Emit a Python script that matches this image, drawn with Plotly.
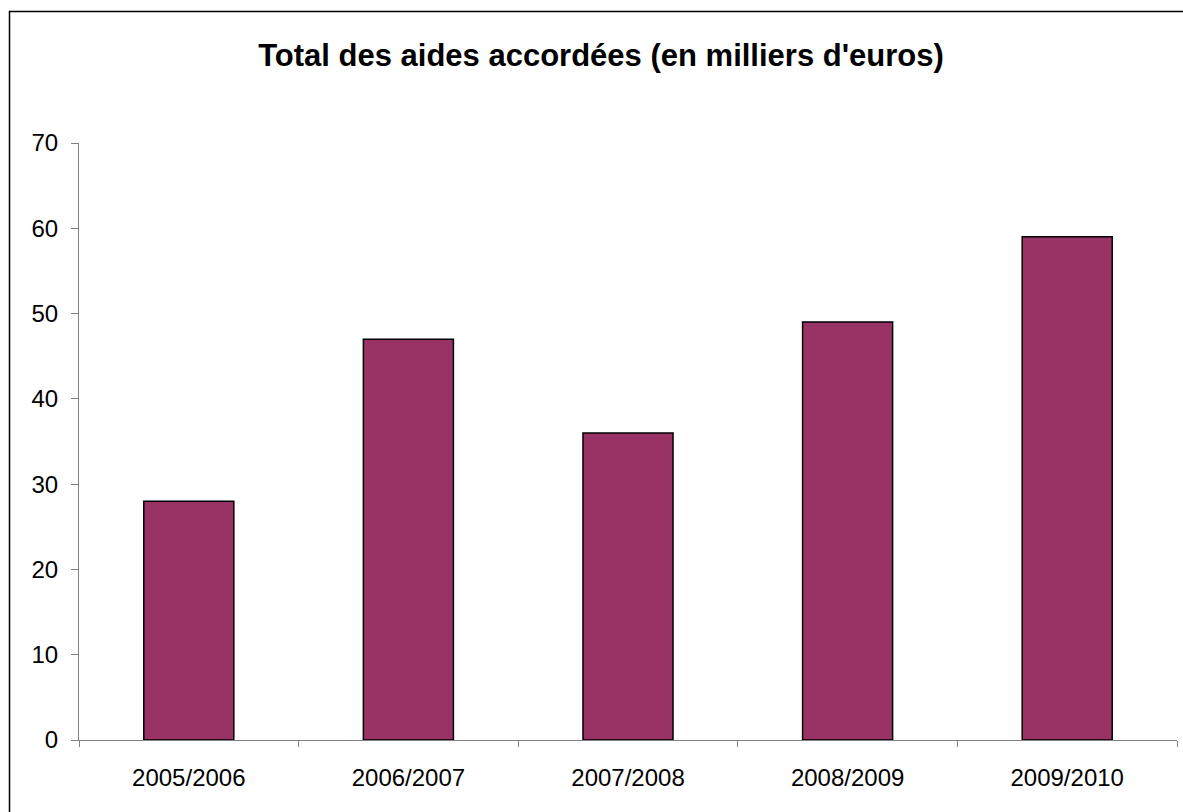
import plotly.graph_objects as go

categories = ["2005/2006", "2006/2007", "2007/2008", "2008/2009", "2009/2010"]
values = [28, 47, 36, 49, 59]
y_ticks = [0, 10, 20, 30, 40, 50, 60, 70]

W, H = 1183, 812
L, R, T, B = 79, 1177, 143, 740

fig = go.Figure(go.Bar(
    x=categories, y=values,
    marker=dict(color="#993366", line=dict(color="#000000", width=1.5)),
))

def px_to_paper_x(px):
    return (px - L) / (R - L)

def px_to_paper_y(py):
    return (B - py) / (B - T)

fig.add_shape(type="rect", xref="paper", yref="paper",
              x0=px_to_paper_x(9.5), x1=px_to_paper_x(1220),
              y0=px_to_paper_y(850), y1=px_to_paper_y(11.5),
              line=dict(color="#000000", width=1.5), fillcolor="rgba(0,0,0,0)",
              layer="below")

fig.update_layout(
    width=W, height=H,
    margin=dict(l=L, r=W - R, t=T, b=H - B, pad=0),
    paper_bgcolor="white", plot_bgcolor="white",
    bargap=0.59,
    showlegend=False,
    title=dict(text="<b>Total des aides accordées (en milliers d'euros)</b>",
               x=px_to_paper_x(601), xref="paper", xanchor="center",
               y=1 - 55 / H, yanchor="middle",
               font=dict(family="Liberation Sans, Arial", size=31, color="#000000")),
    font=dict(family="Liberation Sans, Arial", size=24, color="#000000"),
    xaxis=dict(
        type="category", tickson="boundaries", ticks="outside", ticklen=6,
        tickcolor="#808080", tickwidth=1,
        showline=True, linecolor="#808080", linewidth=1,
        showgrid=False, zeroline=False,
        tickfont=dict(size=24), ticklabelstandoff=16,
    ),
    yaxis=dict(
        range=[0, 70], tickvals=y_ticks, ticks="outside", ticklen=7,
        tickcolor="#808080", tickwidth=1,
        showline=True, linecolor="#808080", linewidth=1,
        showgrid=False, zeroline=False,
        tickfont=dict(size=24), ticklabelstandoff=8,
    ),
)

fig.write_html(
    "out.html",
    config={"displayModeBar": False},
    post_script="document.body.style.margin='0';document.documentElement.style.overflow='hidden';document.body.style.overflow='hidden';",
)
